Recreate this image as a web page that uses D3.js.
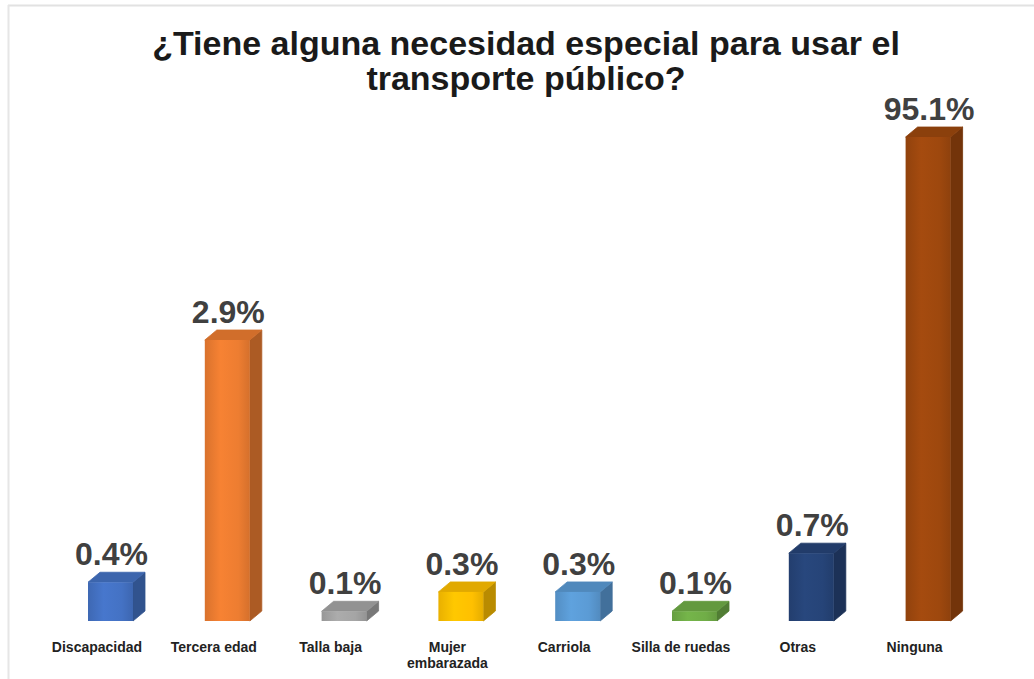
<!DOCTYPE html>
<html>
<head>
<meta charset="utf-8">
<script src="https://cdn.jsdelivr.net/npm/d3@7"></script>
<style>
  html, body { margin: 0; padding: 0; background: #ffffff; }
  svg { display: block; }
</style>
</head>
<body>
<svg id="chart" width="1034" height="679"></svg>
<script>
// ---- data ----
const titleLines = ["¿Tiene alguna necesidad especial para usar el", "transporte público?"];
const categories = ["Discapacidad", "Tercera edad", "Talla baja", "Mujer embarazada", "Carriola", "Silla de ruedas", "Otras", "Ninguna"];
const values = [0.4, 2.9, 0.1, 0.3, 0.3, 0.1, 0.7, 95.1];
const colors = ["#4472C4", "#ED7D31", "#A5A5A5", "#FFC000", "#5B9BD5", "#70AD47", "#264478", "#9E480E"];

// ---- layout ----
const W = 1034, H = 679;
const baseY = 621;
const svg = d3.select("#chart");

// frame lines
svg.append("line").attr("x1", 8).attr("x2", W).attr("y1", 5.5).attr("y2", 5.5)
  .attr("stroke", "#e2e2e2").attr("stroke-width", 2);
svg.append("line").attr("x1", 8.5).attr("x2", 8.5).attr("y1", 5).attr("y2", H)
  .attr("stroke", "#e6e6e6").attr("stroke-width", 2);

// title
svg.append("g").selectAll("text").data(titleLines).join("text")
  .attr("x", 526).attr("y", (d, i) => 55 + i * 35)
  .attr("text-anchor", "middle")
  .attr("font-family", "'Liberation Sans', Arial, sans-serif")
  .attr("font-weight", "bold").attr("font-size", 34)
  .attr("fill", "#1a1a1a")
  .text(d => d);

// scales
const x = d3.scaleBand().domain(categories).range([38.6, 973]).padding(0);
// broken-looking scale: small values nearly linear, largest bar compressed
const y = d3.scaleLinear().domain([0, 2.9, 95.1]).range([baseY, baseY - 281, baseY - 484]);

const frontW = 45, dx = 12, dy = 10;
const cx = c => x(c) + x.bandwidth() / 2;
const frontLeft = c => cx(c) - 9;

const defs = svg.append("defs");
categories.forEach((c, i) => {
  const base = d3.color(colors[i]);
  const g = defs.append("linearGradient").attr("id", "fg" + i)
    .attr("x1", "0%").attr("x2", "100%").attr("y1", "0%").attr("y2", "0%");
  g.append("stop").attr("offset", "0%").attr("stop-color", base.darker(0.25));
  g.append("stop").attr("offset", "35%").attr("stop-color", base.brighter(0.12));
  g.append("stop").attr("offset", "75%").attr("stop-color", base);
  g.append("stop").attr("offset", "100%").attr("stop-color", base.darker(0.3));
});

const data = categories.map((c, i) => ({ c, v: values[i], i }));
const bars = svg.append("g").selectAll("g").data(data).join("g");

// side face
bars.append("path")
  .attr("d", d => {
    const x0 = frontLeft(d.c) + frontW, yt = y(d.v);
    return `M${x0},${baseY} L${x0},${yt} L${x0 + dx},${yt - dy} L${x0 + dx},${baseY - dy} Z`;
  })
  .attr("fill", d => d3.color(colors[d.i]).darker(0.9))
  .attr("stroke", d => d3.color(colors[d.i]).darker(0.9)).attr("stroke-width", 0.8)
  .attr("stroke-linejoin", "round");

// top face
bars.append("path")
  .attr("d", d => {
    const x0 = frontLeft(d.c), yt = y(d.v);
    return `M${x0},${yt} L${x0 + dx},${yt - dy} L${x0 + frontW + dx},${yt - dy} L${x0 + frontW},${yt} Z`;
  })
  .attr("fill", d => d3.color(colors[d.i]).darker(0.35))
  .attr("stroke", d => d3.color(colors[d.i]).darker(0.35)).attr("stroke-width", 0.8)
  .attr("stroke-linejoin", "round");

// front face
bars.append("rect")
  .attr("x", d => frontLeft(d.c))
  .attr("y", d => y(d.v))
  .attr("width", frontW)
  .attr("height", d => baseY - y(d.v))
  .attr("fill", d => `url(#fg${d.i})`);

// value labels
svg.append("g").selectAll("text").data(data).join("text")
  .attr("x", d => frontLeft(d.c) + frontW / 2 + 1)
  .attr("y", d => y(d.v) - dy - 7)
  .attr("text-anchor", "middle")
  .attr("font-family", "'Liberation Sans', Arial, sans-serif")
  .attr("font-weight", "bold").attr("font-size", 32)
  .attr("fill", "#404040")
  .text(d => d.v.toFixed(1) + "%");

// category labels (wrap long ones)
const catG = svg.append("g");
const probe = catG.append("text")
  .attr("font-family", "'Liberation Sans', Arial, sans-serif")
  .attr("font-weight", "bold").attr("font-size", 14);
categories.forEach(c => {
  probe.text(c);
  const w = probe.node().getComputedTextLength();
  let lines = [c];
  if (w > 110) {
    const words = c.split(" ");
    lines = [words[0], words.slice(1).join(" ")];
  }
  const t = catG.append("text")
    .attr("x", cx(c)).attr("y", 652)
    .attr("text-anchor", "middle")
    .attr("font-family", "'Liberation Sans', Arial, sans-serif")
    .attr("font-weight", "bold").attr("font-size", 14)
    .attr("fill", "#222222");
  lines.forEach((ln, k) => {
    t.append("tspan").attr("x", cx(c)).attr("dy", k === 0 ? 0 : 16).text(ln);
  });
});
probe.remove();
</script>
</body>
</html>
